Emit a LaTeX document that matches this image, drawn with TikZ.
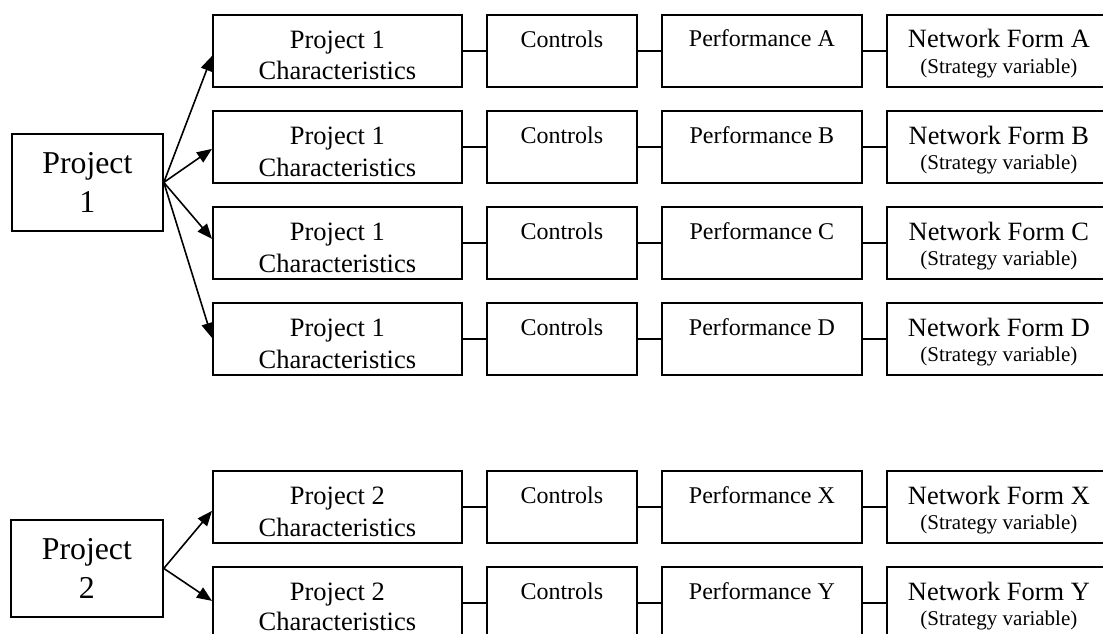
\documentclass[tikz,border=0pt]{standalone}
\usepackage{fontspec}
\setmainfont{Liberation Serif}
\usetikzlibrary{arrows.meta,calc}

\tikzset{
  box/.style={draw, line width=1.8pt, rectangle, inner sep=0pt,
              minimum height=72pt, anchor=north west},
  bigbox/.style={draw, line width=1.8pt, rectangle, inner sep=0pt,
              minimum height=97pt, anchor=north west},
  txt/.style={inner sep=0pt, anchor=base},
  chfont/.style={txt, font=\fontsize{26.5}{30}\selectfont},
  smfont/.style={txt, font=\fontsize{24}{28}\selectfont},
  nffont/.style={txt, font=\fontsize{26.4}{30}\selectfont},
  svfont/.style={txt, font=\fontsize{21}{25}\selectfont},
  pjfont/.style={txt, font=\fontsize{31.8}{36}\selectfont},
  link/.style={line width=1.6pt},
  arr/.style={line width=1.6pt, -{Triangle[length=15pt,width=12pt]}}
}

\begin{document}
\begin{tikzpicture}[x=1pt,y=-1pt]
  \useasboundingbox (0,0) rectangle (1103,634);
  \fill[white] (0,0) rectangle (1103,634);
  \clip (0,0) rectangle (1103,634);

  % project boxes
  \node[bigbox, minimum width=151pt] (pa) at (11,133) {};
  \node[pjfont] (paT) at ($(pa.north)+(0,40)$) {Project};
  \node[pjfont] (paN) at ($(pa.north)+(0,79)$) {1};

  \node[bigbox, minimum width=152pt] (pb) at (10,519) {};
  \node[pjfont] (pbT) at ($(pb.north)+(0,40)$) {Project};
  \node[pjfont] (pbN) at ($(pb.north)+(0,79)$) {2};

  % one row per network form: characteristics, controls, performance, form
  \foreach \r/\t/\L/\P/\cb in {1/14/A/1/66, 2/110/B/1/66, 3/206/C/1/66,
                               4/302/D/1/66, 5/470/X/2/66, 6/566/Y/2/64.5} {
    \node[box, minimum width=249pt] (ch\r) at (212,\t) {};
    \node[chfont] (chA\r) at ($(ch\r.north)+(0,34.5)$) {Project \P};
    \node[chfont] (chB\r) at ($(ch\r.north)+(0,\cb)$) {Characteristics};

    \node[box, minimum width=150pt] (co\r) at (486,\t) {};
    \node[smfont] (coT\r) at ($(co\r.north)+(0,33.5)$) {Controls};

    \node[box, minimum width=200pt] (pf\r) at (661,\t) {};
    \node[smfont] (pfT\r) at ($(pf\r.north)+(0,33)$) {Performance \L};

    \node[box, minimum width=224pt] (nf\r) at (886,\t) {};
    \node[nffont] (nfT\r) at ($(nf\r.north)+(0,34)$) {Network Form \L};
    \node[svfont] (nfS\r) at ($(nf\r.north)+(0,59.5)$) {(Strategy variable)};

    \draw[link] (ch\r.east) -- (co\r.west);
    \draw[link] (co\r.east) -- (pf\r.west);
    \draw[link] (pf\r.east) -- (nf\r.west);
  }

  % fan-out arrows
  \draw[arr] (pa.east) -- ([yshift=-5pt]ch1.west);
  \draw[arr] (pa.east) -- ([yshift=-2pt]ch2.west);
  \draw[arr] (pa.east) -- ([yshift=4pt]ch3.west);
  \draw[arr] (pa.east) -- ([yshift=1pt]ch4.west);
  \draw[arr] (pb.east) -- ([yshift=-4pt]ch5.west);
  \draw[arr] (pb.east) -- ([yshift=2pt]ch6.west);
\end{tikzpicture}
\end{document}
